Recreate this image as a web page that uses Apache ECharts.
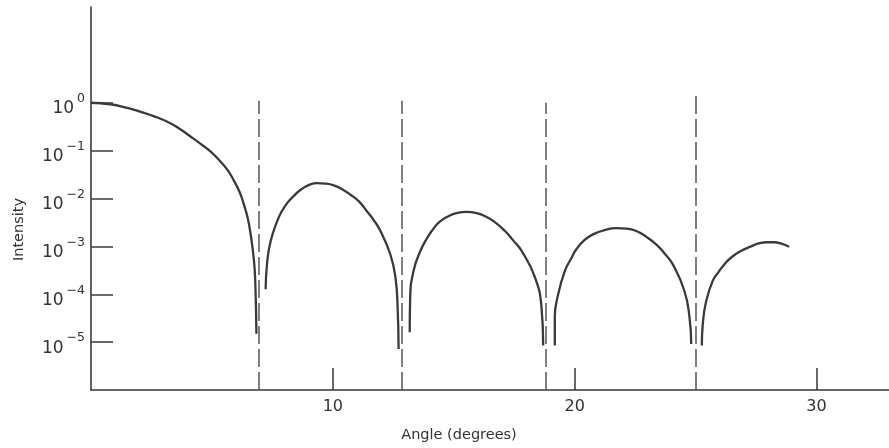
<!DOCTYPE html>
<html>
<head>
<meta charset="utf-8">
<script src="https://cdn.jsdelivr.net/npm/echarts@6/dist/echarts.min.js"></script>
<style>html,body{margin:0;padding:0;background:#fff}#c{width:889px;height:448px}</style>
</head>
<body>
<div id="c"></div>
<script>
// Angle (degrees) and intensity, one pair of arrays per lobe
const lobe1Angle = [0, 0.8, 1.5, 2.0, 2.62, 3.2, 3.69, 4.1, 4.52, 4.95, 5.34, 5.65, 5.92, 6.15, 6.33, 6.47, 6.58, 6.74, 6.80, 6.84];
const lobe1Int   = [1.0, 0.93, 0.78, 0.66, 0.52, 0.39, 0.28, 0.20, 0.14, 0.095, 0.060, 0.039, 0.0231, 0.0135, 0.0073, 0.0041, 0.00211, 5.0e-4, 1.38e-4, 1.5e-5];
const lobe2Angle = [7.22, 7.29, 7.43, 7.70, 7.9, 8.12, 8.4, 8.67, 9.0, 9.35, 9.7, 10.04, 10.4, 10.73, 11.1, 11.41, 11.7, 11.97, 12.38, 12.59, 12.68, 12.72];
const lobe2Int   = [1.27e-4, 4.95e-4, 1.29e-3, 3.37e-3, 5.5e-3, 8.1e-3, 0.0115, 0.0152, 0.019, 0.021, 0.0205, 0.0188, 0.0155, 0.012, 0.0085, 0.0054, 0.0035, 2.09e-3, 6.76e-4, 2.24e-4, 5.3e-5, 7.2e-6];
const lobe3Angle = [13.18, 13.20, 13.34, 13.62, 13.85, 14.09, 14.4, 14.78, 15.15, 15.54, 15.9, 16.30, 16.7, 17.12, 17.45, 17.81, 18.36, 18.63, 18.70];
const lobe3Int   = [1.6e-5, 8.5e-5, 3.1e-4, 8.0e-4, 1.35e-3, 2.09e-3, 3.2e-3, 4.27e-3, 5.0e-3, 5.25e-3, 5.0e-3, 4.27e-3, 3.2e-3, 2.09e-3, 1.35e-3, 8.0e-4, 2.24e-4, 5.3e-5, 8.5e-6];
const lobe4Angle = [19.18, 19.18, 19.32, 19.60, 19.85, 20.07, 20.4, 20.76, 21.2, 21.72, 22.15, 22.55, 22.95, 23.37, 23.7, 24.06, 24.54, 24.75, 24.82];
const lobe4Int   = [8.5e-6, 3.3e-5, 1.0e-4, 3.1e-4, 5.5e-4, 8.7e-4, 1.35e-3, 1.78e-3, 2.15e-3, 2.4e-3, 2.35e-3, 2.1e-3, 1.6e-3, 1.1e-3, 7.3e-4, 4.2e-4, 1.17e-4, 3.3e-5, 9.1e-6];
const lobe5Angle = [25.26, 25.30, 25.44, 25.71, 25.95, 26.19, 26.5, 26.88, 27.3, 27.70, 27.95, 28.25, 28.55, 28.87];
const lobe5Int   = [8.5e-6, 2.4e-5, 7.2e-5, 1.9e-4, 2.9e-4, 4.2e-4, 6.0e-4, 8.0e-4, 1.0e-3, 1.19e-3, 1.22e-3, 1.22e-3, 1.14e-3, 9.8e-4];
// dashed zero lines: angle and the height their dashes reach
const zeroAngle = [6.95, 12.85, 18.82, 25.0];
const zeroTop   = [1.1, 1.1, 1.0, 1.4];
// axes
const xTicks = [10, 20, 30];
const yTicks = [1e-5, 1e-4, 1e-3, 1e-2, 1e-1, 1];
const xMin = 0, xMax = 33, yMin = 1e-6, yMax = 1e2;

const ink = '#3a3a3a';
const lobes = [[lobe1Angle, lobe1Int], [lobe2Angle, lobe2Int], [lobe3Angle, lobe3Int], [lobe4Angle, lobe4Int], [lobe5Angle, lobe5Int]];
const series = lobes.map(([a, v]) => ({
  type: 'line',
  data: a.map((x, i) => [x, v[i]]),
  showSymbol: false,
  smooth: 0.5,
  lineStyle: { color: ink, width: 2.3 },
  silent: true
}));
series.push({
  type: 'line',
  data: [],
  silent: true,
  markLine: {
    silent: true,
    symbol: 'none',
    label: { show: false },
    lineStyle: { color: '#555', width: 1.5, type: [18, 5] },
    data: zeroAngle.map((x, i) => [{ coord: [x, yMin] }, { coord: [x, zeroTop[i]] }])
  }
});

const chart = echarts.init(document.getElementById('c'));
chart.setOption({
  animation: false,
  backgroundColor: '#fff',
  grid: { left: 91, top: 7, right: 0, bottom: 57 },
  xAxis: {
    type: 'value', min: xMin, max: xMax,
    name: 'Angle (degrees)', nameLocation: 'middle', nameGap: 38,
    nameTextStyle: { fontFamily: 'DejaVu Sans', fontSize: 14.5, color: '#333', padding: [0, 62, 0, 0] },
    axisLine: { lineStyle: { color: ink, width: 1.6 } },
    axisTick: { show: true, inside: true, length: 22, customValues: xTicks, lineStyle: { color: ink, width: 1.5 } },
    axisLabel: { customValues: xTicks, fontFamily: 'DejaVu Sans', fontSize: 16, color: '#333', margin: 9 },
    splitLine: { show: false }
  },
  yAxis: {
    type: 'log', logBase: 10, min: yMin, max: yMax,
    name: 'Intensity', nameLocation: 'middle', nameGap: 64, nameRotate: 90,
    nameTextStyle: { fontFamily: 'DejaVu Sans', fontSize: 14.5, color: '#333', padding: [0, 62, 0, 0] },
    axisLine: { lineStyle: { color: ink, width: 1.6 } },
    axisTick: { show: true, inside: true, length: 22, customValues: yTicks, lineStyle: { color: ink, width: 1.5 } },
    axisLabel: {
      customValues: yTicks, margin: 6,
      formatter: function (v) {
        const e = Math.round(Math.log10(v));
        return '{b|10}{s|' + (e === 0 ? '0' : '\u2212' + (-e)) + '}';
      },
      rich: {
        b: { fontFamily: 'DejaVu Sans', fontSize: 17, color: '#333', lineHeight: 29, verticalAlign: 'bottom' },
        s: { fontFamily: 'DejaVu Sans', fontSize: 12.5, color: '#333', lineHeight: 29, verticalAlign: 'top', padding: [4, 0, 0, 3] }
      }
    },
    splitLine: { show: false }
  },
  series: series
});
</script>
</body>
</html>
